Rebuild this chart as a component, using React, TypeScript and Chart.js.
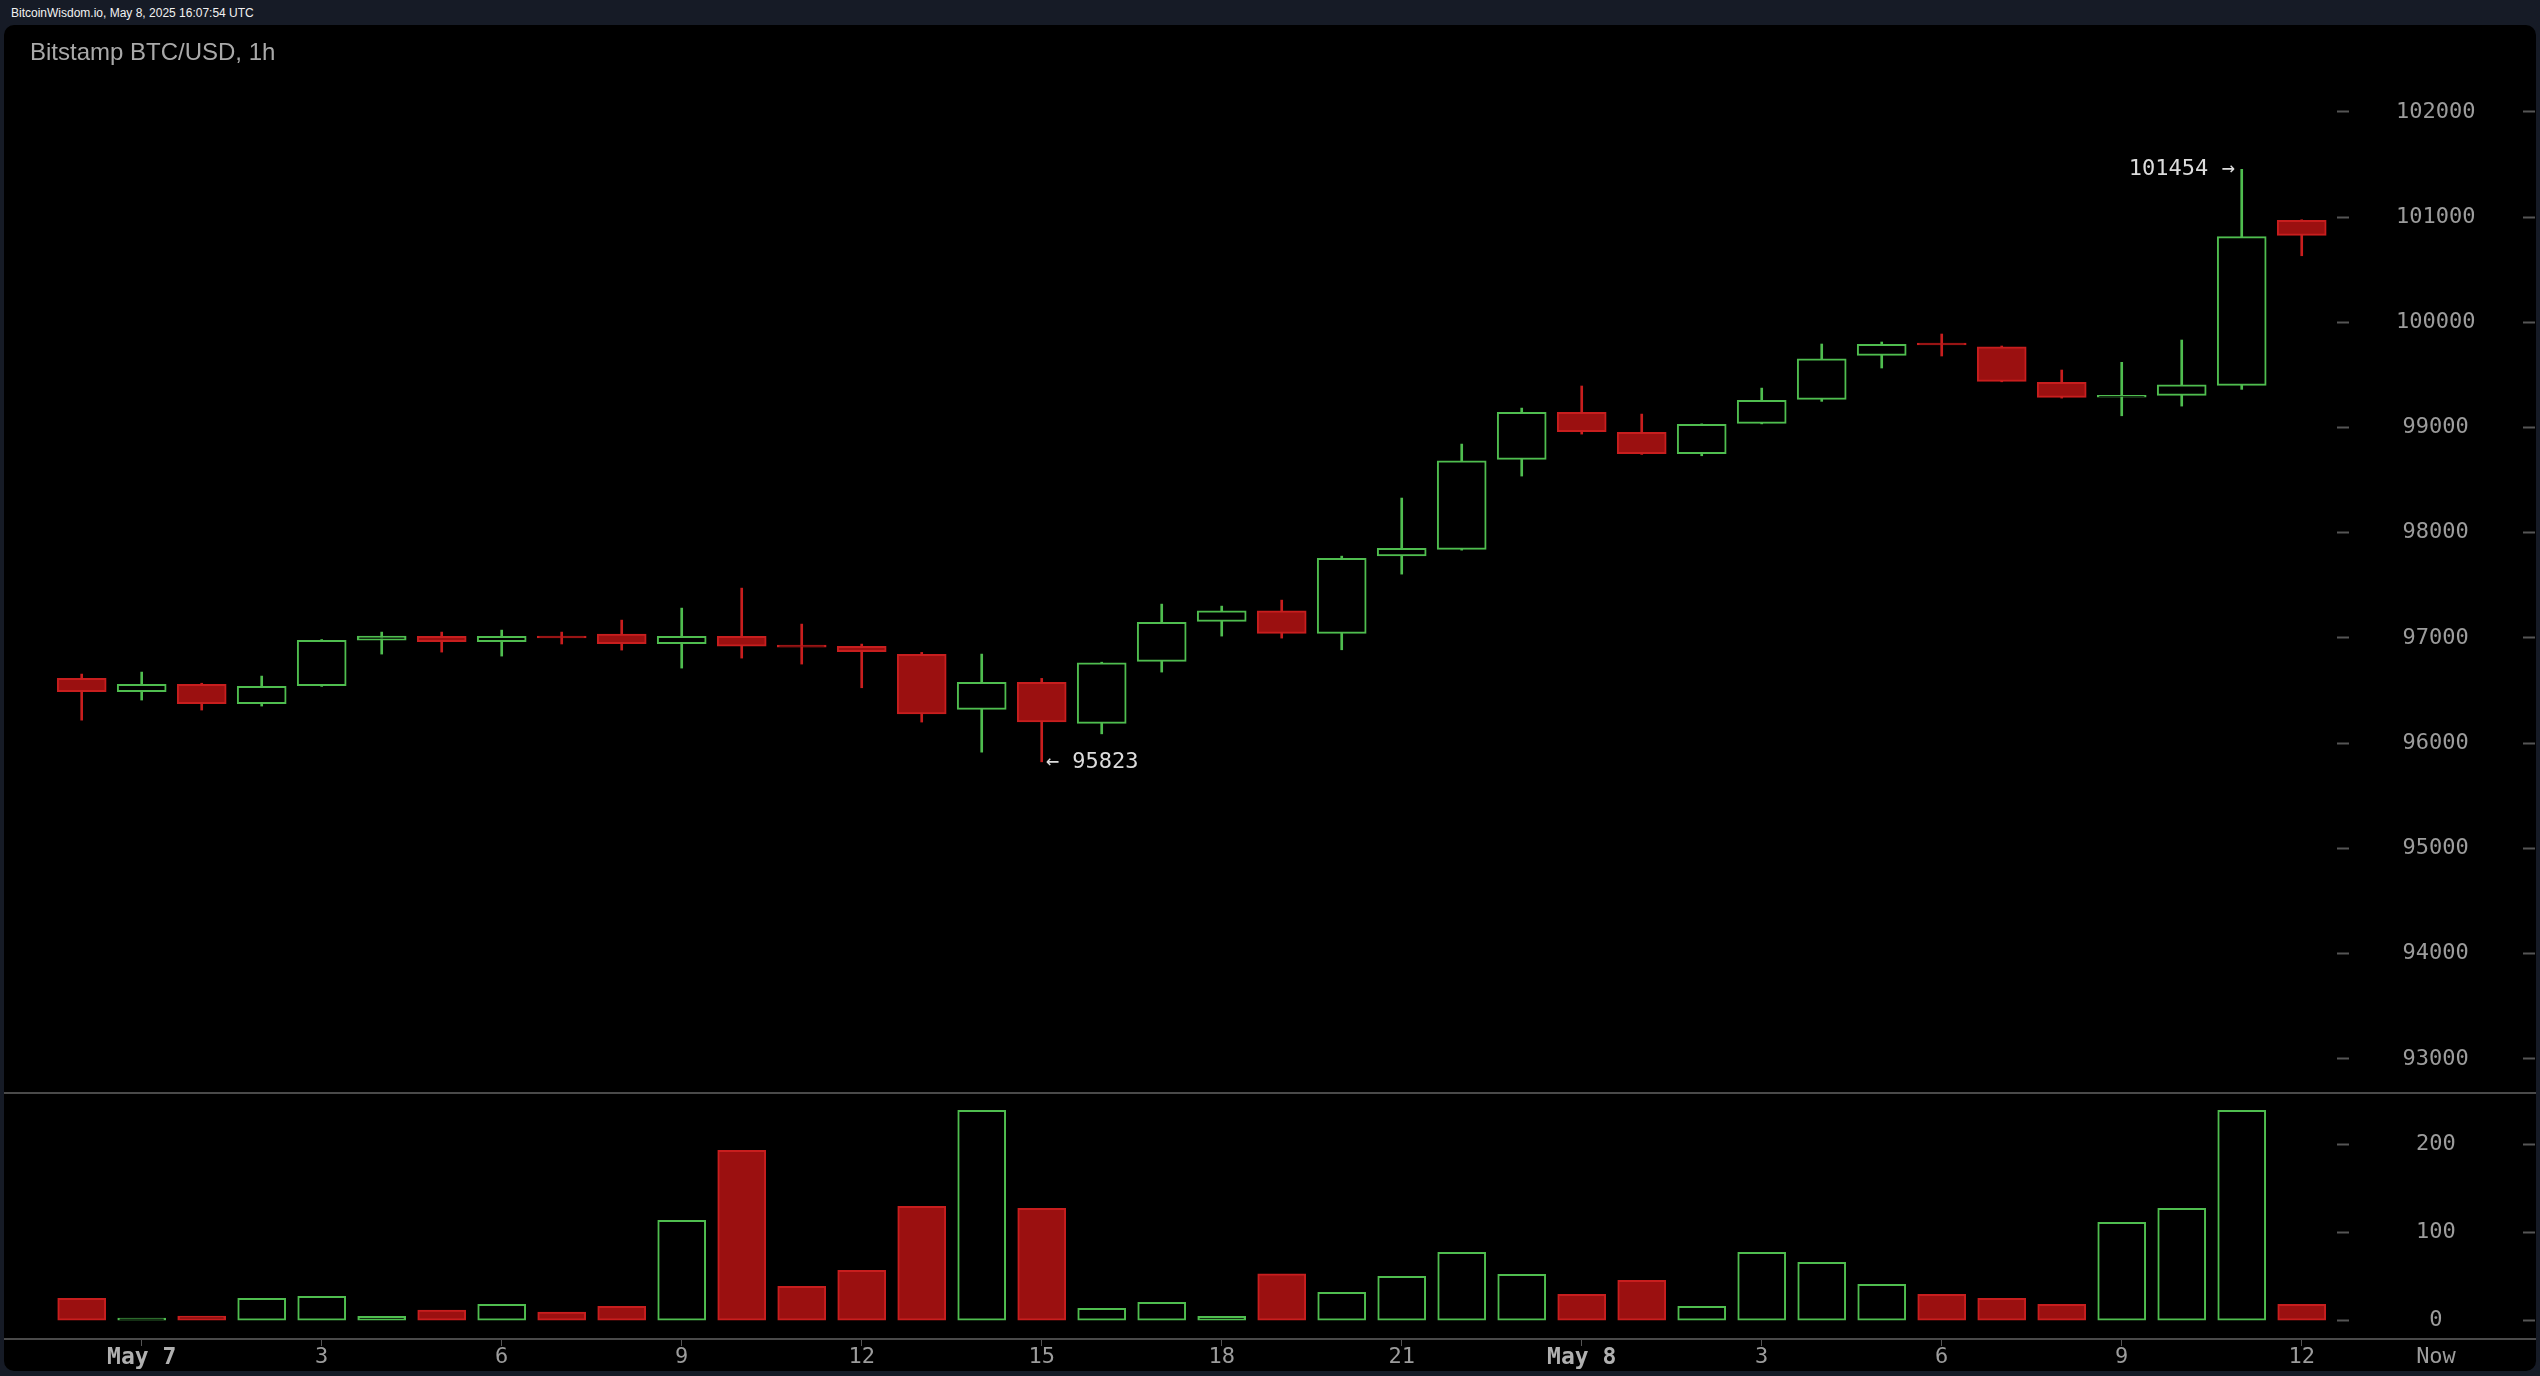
import React, { useEffect, useRef } from 'react';
import { Chart, registerables } from 'chart.js';

Chart.register(...registerables);

// ---- data (Bitstamp BTC/USD, 1h; May 6 23:00 -> May 8 12:00 UTC) ----
const hours = [
  '23', 'May 7', '1', '2', '3', '4', '5', '6', '7', '8', '9', '10', '11', '12',
  '13', '14', '15', '16', '17', '18', '19', '20', '21', '22', '23', 'May 8',
  '1', '2', '3', '4', '5', '6', '7', '8', '9', '10', '11', '12',
];
const opens = [
  96616, 96489, 96559, 96375, 96546, 96980, 97015, 96964, 97018, 97037,
  96945, 97015, 96925, 96920, 96844, 96321, 96578, 96188, 96778, 97158,
  97259, 97044, 97781, 97842, 98698, 99144, 98954, 98751, 99040, 99268,
  99686, 99792, 99768, 99430, 99288, 99306, 99401, 100970,
];
const highs = [
  96657, 96676, 96570, 96638, 96985, 97056, 97056, 97075, 97056, 97170,
  97284, 97474, 97132, 96942, 96863, 96847, 96616, 96770, 97322, 97303,
  97360, 97778, 98330, 98843, 99185, 99395, 99128, 99035, 99375, 99794,
  99813, 99889, 99775, 99547, 99620, 99832, 101454, 100975,
];
const lows = [
  96219, 96410, 96315, 96353, 96540, 96847, 96866, 96828, 96943, 96885,
  96714, 96809, 96752, 96527, 96201, 95915, 95823, 96089, 96676, 97018,
  96999, 96888, 97607, 97835, 98539, 98938, 98745, 98732, 99035, 99249,
  99566, 99680, 99435, 99280, 99112, 99204, 99363, 100633,
];
const closes = [
  96489, 96559, 96375, 96540, 96977, 97018, 96964, 97015, 97000, 96945,
  97015, 96923, 96913, 96869, 96279, 96578, 96203, 96764, 97148, 97259,
  97044, 97757, 97852, 98684, 99144, 98960, 98751, 99030, 99259, 99654,
  99791, 99785, 99439, 99287, 99295, 99407, 100814, 100827,
];
const volumes = [
  25.4, 3, 5.3, 25.4, 27.7, 5, 12.1, 18.6, 9.9, 16.3,
  113.8, 193.2, 39, 57.1, 129.7, 238.5, 127.4, 14, 20.8, 5,
  53, 32.2, 50.3, 77.5, 52.6, 29.9, 45.8, 16.3, 77.5, 66.2,
  41.3, 29.9, 25.4, 18.6, 111.6, 127.4, 238.5, 18.6,
];
const priceTicks = [93000, 94000, 95000, 96000, 97000, 98000, 99000, 100000, 101000, 102000];
const volumeTicks = [0, 100, 200];

// ---- styling ----
const GREEN = '#4fbd4f';
const RED_FILL = '#9b1010';
const RED_LINE = '#c81e1e';
const AXIS_GREY = '#555555';
const LABEL_GREY = '#9c9c9c';
const MONO = '"DejaVu Sans Mono", "Liberation Mono", monospace';

const idx = hours.map((_, i) => i);
const isUp = idx.map((i) => closes[i] >= opens[i]);
const xTickIdx = idx.filter((i) => hours[i].startsWith('May') || Number(hours[i]) % 3 === 0);

const X_MIN = -1.295;
const X_MAX = 37.588;

const candleAnnotations = {
  id: 'candleAnnotations',
  afterDatasetsDraw(chart: any) {
    const { ctx, scales } = chart;
    const hiVal = Math.max(...highs);
    const loVal = Math.min(...lows);
    const hiI = highs.indexOf(hiVal);
    const loI = lows.indexOf(loVal);
    ctx.save();
    ctx.font = `22px ${MONO}`;
    ctx.fillStyle = '#dcdcdc';
    ctx.textBaseline = 'middle';
    ctx.textAlign = 'right';
    ctx.fillText(`${hiVal} →`, scales.x.getPixelForValue(hiI) - 7, scales.y.getPixelForValue(hiVal));
    ctx.textAlign = 'left';
    ctx.fillText(`← ${loVal}`, scales.x.getPixelForValue(loI) + 4, scales.y.getPixelForValue(loVal));
    ctx.restore();
  },
};

function rightAxes(min: number, max: number, ticks: number[], padding: number) {
  return {
    y: {
      type: 'linear',
      position: 'right',
      weight: 0,
      min,
      max,
      beginAtZero: false,
      afterBuildTicks: (s: any) => { s.ticks = ticks.map((v) => ({ value: v })); },
      afterFit: (s: any) => { s.width = 186; s.paddingTop = 0; s.paddingBottom = 0; },
      border: { display: false },
      grid: { drawOnChartArea: false, drawTicks: true, tickLength: 12, tickColor: AXIS_GREY, tickWidth: 2 },
      ticks: {
        crossAlign: 'center',
        padding,
        color: LABEL_GREY,
        font: { family: MONO, size: 22 },
        callback: (v: any) => String(v),
      },
    },
    y2: {
      type: 'linear',
      position: 'right',
      weight: 1,
      min,
      max,
      beginAtZero: false,
      afterBuildTicks: (s: any) => { s.ticks = ticks.map((v) => ({ value: v })); },
      afterFit: (s: any) => { s.width = 13; s.paddingTop = 0; s.paddingBottom = 0; },
      border: { display: false },
      grid: { drawOnChartArea: false, drawTicks: true, tickLength: 12, tickColor: AXIS_GREY, tickWidth: 2 },
      ticks: { display: false },
    },
  };
}

export default function App() {
  const priceRef = useRef<HTMLCanvasElement>(null);
  const volRef = useRef<HTMLCanvasElement>(null);

  useEffect(() => {
    document.body.style.margin = '0';
    const priceChart = new Chart(priceRef.current as HTMLCanvasElement, {
      type: 'bar',
      data: {
        datasets: [
          {
            label: 'body',
            data: idx.map((i) => ({ x: i, y: [Math.min(opens[i], closes[i]), Math.max(opens[i], closes[i])] })),
            backgroundColor: idx.map((i) => (isUp[i] ? '#000000' : RED_FILL)),
            borderColor: idx.map((i) => (isUp[i] ? GREEN : RED_LINE)),
            borderWidth: 2,
            borderSkipped: false,
            barThickness: 49,
            minBarLength: 2,
            grouped: false,
            order: 0,
          },
          {
            label: 'wick',
            data: idx.map((i) => ({ x: i, y: [lows[i], highs[i]] })),
            backgroundColor: idx.map((i) => (isUp[i] ? GREEN : RED_LINE)),
            borderWidth: 0,
            barThickness: 2,
            grouped: false,
            order: 1,
          },
        ],
      } as any,
      options: {
        responsive: false,
        animation: false,
        devicePixelRatio: 1,
        layout: { padding: 0, autoPadding: false },
        plugins: { legend: { display: false }, tooltip: { enabled: false }, title: { display: false } },
        scales: {
          x: { type: 'linear', min: X_MIN, max: X_MAX, offset: false, display: false, grid: { offset: false } },
          ...rightAxes(92685, 102826, priceTicks, 47),
        },
      } as any,
      plugins: [candleAnnotations],
    });

    const volChart = new Chart(volRef.current as HTMLCanvasElement, {
      type: 'bar',
      data: {
        datasets: [
          {
            label: 'volume',
            data: idx.map((i) => ({ x: i, y: [0, volumes[i]] })),
            backgroundColor: idx.map((i) => (isUp[i] ? '#000000' : RED_FILL)),
            borderColor: idx.map((i) => (isUp[i] ? GREEN : RED_LINE)),
            borderWidth: 2,
            borderSkipped: false,
            barThickness: 48,
            grouped: false,
          },
        ],
      } as any,
      options: {
        responsive: false,
        animation: false,
        devicePixelRatio: 1,
        layout: { padding: 0, autoPadding: false },
        plugins: { legend: { display: false }, tooltip: { enabled: false } },
        scales: {
          x: {
            type: 'linear',
            position: 'bottom',
            min: X_MIN,
            max: X_MAX,
            offset: false,
            afterBuildTicks: (s: any) => { s.ticks = xTickIdx.map((v) => ({ value: v })); },
            afterFit: (s: any) => { s.height = 32; s.paddingLeft = 0; s.paddingRight = 0; },
            border: { display: false },
            grid: { drawOnChartArea: false, drawTicks: true, tickLength: 7, tickColor: AXIS_GREY, tickWidth: 1, offset: false },
            ticks: {
              autoSkip: false,
              maxRotation: 0,
              padding: -2,
              color: (c: any) => (hours[xTickIdx[c.index]] || '').startsWith('May') ? '#b0b0b0' : LABEL_GREY,
              font: (c: any) => (hours[xTickIdx[c.index]] || '').startsWith('May')
                ? { family: MONO, size: 23, weight: 'bold' }
                : { family: MONO, size: 22 },
              callback: (v: any) => hours[Math.round(Number(v))],
            },
          },
          ...rightAxes(-20.75, 259.3, volumeTicks, 67),
        },
      } as any,
    });

    return () => {
      priceChart.destroy();
      volChart.destroy();
    };
  }, []);

  return (
    <div style={{ position: 'fixed', left: 0, top: 0, width: 2540, height: 1376, background: '#161b26', overflow: 'hidden' }}>
      <div style={{ position: 'absolute', left: 11, top: 6, font: '12px "Liberation Sans", Arial, sans-serif', lineHeight: '14px', color: '#f2f2f2', whiteSpace: 'nowrap' }}>
        BitcoinWisdom.io, May 8, 2025 16:07:54 UTC
      </div>
      <div style={{ position: 'absolute', left: 4, top: 25, width: 2532, height: 1346, background: '#000000', borderRadius: 10 }} />
      <canvas ref={priceRef} width={2532} height={1067} style={{ position: 'absolute', left: 4, top: 25, width: 2532, height: 1067 }} />
      <canvas ref={volRef} width={2532} height={279} style={{ position: 'absolute', left: 4, top: 1092, width: 2532, height: 279 }} />
      <div style={{ position: 'absolute', left: 4, top: 1092, width: 2532, height: 2, background: '#4a4a4a' }} />
      <div style={{ position: 'absolute', left: 4, top: 1338, width: 2532, height: 2, background: '#4a4a4a' }} />
      <div style={{ position: 'absolute', left: 30, top: 40, font: '24px "Liberation Sans", Arial, sans-serif', lineHeight: '24px', color: '#a9a9a9', whiteSpace: 'nowrap' }}>
        Bitstamp BTC/USD, 1h
      </div>
      <div style={{ position: 'absolute', left: 2406, top: 1345, width: 60, textAlign: 'center', font: `22px ${MONO}`, lineHeight: '22px', color: LABEL_GREY }}>
        Now
      </div>
    </div>
  );
}
